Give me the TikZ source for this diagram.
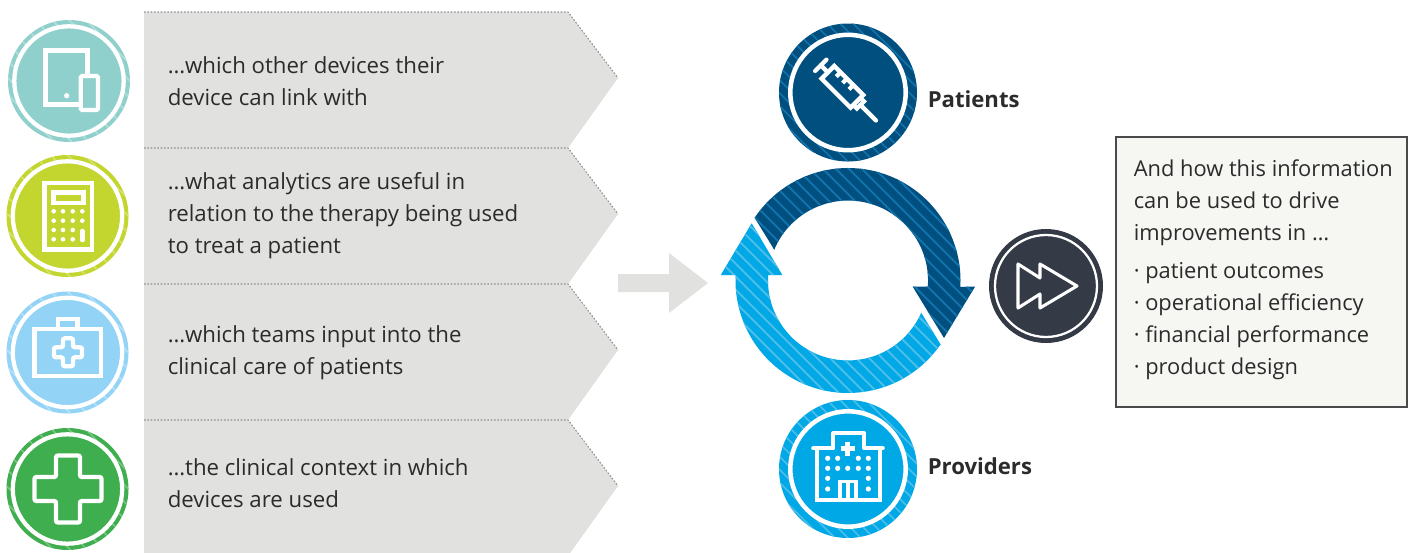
\documentclass[tikz,border=0pt]{standalone}
\usepackage{fontspec}
\setmainfont{Open Sans}
\usepackage{tikz}

\definecolor{blockgrey}{HTML}{E1E1E0}
\definecolor{dotgrey}{HTML}{8F8F8F}
\definecolor{tealbadge}{HTML}{90D0CC}
\definecolor{limebadge}{HTML}{C3D52F}
\definecolor{skybadge}{HTML}{93D4F6}
\definecolor{greenbadge}{HTML}{3FAE4E}
\definecolor{darkblue}{HTML}{004F7F}
\definecolor{darkstripe}{HTML}{1273AC}
\definecolor{lightblue}{HTML}{00A8E6}
\definecolor{lightstripe}{HTML}{4DBDEA}
\definecolor{slatebadge}{HTML}{343A46}
\definecolor{boxfill}{HTML}{F6F6F3}
\definecolor{boxline}{HTML}{4A4A4A}
\definecolor{textdark}{HTML}{2B2B2B}

\tikzset{
  blocktext/.style={anchor=west,inner sep=0pt,align=left,text=textdark,font=\fontsize{16.65}{24}\selectfont},
  boxtext/.style={blocktext,font=\fontsize{16.4}{24}\selectfont},
  boldlabel/.style={anchor=west,inner sep=0pt,text=textdark,font=\fontsize{16.6}{24}\selectfont\bfseries},
  icon/.style={draw=white,line width=3.2pt,line join=round,line cap=round},
  thinicon/.style={draw=white,line width=3.2pt,line join=miter,miter limit=10},
  dotmark/.style={fill=white,draw=none}
}

% circle with striped rim and a white ring: x, y, radius, ring radius, fill, stripe, ring width, stripe step
\newcommand{\badge}[8]{
  \fill[#5] (#1,#2) circle (#3);
  \begin{scope}[shift={(#1,#2)}]
    \clip (0,0) circle (#3);
    \pgfmathsetmacro{\nextk}{-160+#8}
    \foreach \k in {-160,\nextk,...,160}
      \draw[#6,line width=1.3pt] (\k-85,-85) -- (\k+85,85);
  \end{scope}
  \fill[#5] (#1,#2) circle (#4);
  \draw[white,line width=#7] (#1,#2) circle (#4);
}

% diagonal stripes for the ring arrows
\newcommand{\ringstripes}[1]{
  \foreach \k in {440,453,...,1100}
    \draw[#1,line width=1.5pt] (\k,150) -- ++(260,260);
}
\newcommand{\darkshape}{(848,280.5) ++(213.9:112.5) arc (213.9:363.2:112.5) -- (975,286.7) -- (944,338) -- (912.7,286.7) -- (927.8,286.7) arc (364.4:202.7:80) -- cycle}
\newcommand{\lightshape}{(848,280.5) ++(34.6:112.5) arc (34.6:182.8:112.5) -- (720.7,275) -- (751.7,223.3) -- (782.3,275) -- (768.2,275) arc (183.9:23.8:80) -- cycle}

\begin{document}
\begin{tikzpicture}[x=0.75pt,y=0.75pt,yscale=-1,xscale=1]
\clip (0,0) rectangle (1411,553);

%Shape: Blocks
\foreach \y in {12,148,284,420}{
  \fill[blockgrey] (144,\y) -- (568,\y) -- (618,\y+66) -- (568,\y+136) -- (144,\y+136) -- cycle;
  \draw[dotgrey,line width=0.8pt,dash pattern=on 1.2pt off 1.3pt] (144,\y) -- (568,\y) -- (618,\y+66);
}

%Shape: Grey Arrow
\fill[blockgrey] (618,274) -- (669,274) -- (669,253) -- (708,283) -- (669,313) -- (669,292) -- (618,292) -- cycle;

%Shape: Left Badges
\badge{69}{81}{61}{54.7}{tealbadge}{white!30!tealbadge}{3.2pt}{17}
\badge{67.5}{216}{61}{54.7}{limebadge}{white!30!limebadge}{3.2pt}{17}
\badge{67.5}{352.5}{61}{54.7}{skybadge}{white!30!skybadge}{3.2pt}{17}
\badge{67.5}{489}{61}{54.7}{greenbadge}{white!30!greenbadge}{3.2pt}{17}

%Shape: Tablet
\draw[thinicon,fill=tealbadge] (45.5,50.5) rectangle (87.5,104.5);
\draw[thinicon,fill=tealbadge,rounded corners=1pt] (80.7,76) rectangle (98,110);
\fill[dotmark] (66.7,95.7) circle (2.6);

%Shape: Calculator
\draw[thinicon] (44.5,183.2) rectangle (91.8,249.5);
\draw[thinicon] (53.5,192.5) rectangle (83.5,203);
\foreach \row in {211.3,220.7,230,239.3}
  \foreach \col in {53.7,63,72.7}
    \fill[dotmark] (\col,\row) circle (2.3);
\fill[dotmark] (82.3,211.3) circle (2.3);
\fill[dotmark] (82.3,220.7) circle (2.3);
\draw[white,line width=3.4pt,line cap=round] (82.3,231) -- (82.3,240);

%Shape: Medical Case
\draw[thinicon] (34.5,329) rectangle (101,376);
\draw[thinicon] (58,329) -- (58,319) -- (77.5,319) -- (77.5,329);
\draw[thinicon,rounded corners=1.5pt] (63,338.3) -- (73,338.3) -- (73,347.3) -- (82,347.3) -- (82,357.3) -- (73,357.3) -- (73,366.3) -- (63,366.3) -- (63,357.3) -- (54,357.3) -- (54,347.3) -- (63,347.3) -- cycle;

%Shape: Green Cross
\draw[thinicon,rounded corners=1.5pt] (56,455.5) -- (80,455.5) -- (80,477) -- (101.5,477) -- (101.5,501) -- (80,501) -- (80,522.5) -- (56,522.5) -- (56,501) -- (34.5,501) -- (34.5,477) -- (56,477) -- cycle;

%Shape: Patients Badge
\badge{848}{92.5}{69}{57.7}{darkblue}{darkstripe}{3.4pt}{13}
\begin{scope}[shift={(820.8,65.3)},rotate=45]
  \draw[icon] (0,-8) -- (0,8);
  \draw[icon] (0,0) -- (10,0);
  \draw[icon,line cap=butt,line join=miter] (10,-9) rectangle (51,9);
  \foreach \s in {19,28,37}
    \draw[icon,line cap=butt] (\s,-9) -- (\s,-3);
  \draw[icon,line cap=butt,line join=miter] (51,-5) -- (56,-5) -- (56,5) -- (51,5);
  \draw[icon] (56,0) -- (78,0);
\end{scope}

%Shape: Providers Badge
\badge{848}{469}{69}{57.7}{lightblue}{lightstripe}{3.4pt}{13}
\draw[icon,line cap=butt,line join=miter] (816.7,449) -- (816.7,500) -- (880,500) -- (880,449);
\draw[icon] (813.3,448.3) -- (833.3,448.3) -- (833.3,433.3) -- (864.3,433.3) -- (864.3,448.3) -- (882.7,448.3);
\fill[lightblue] (839,440) rectangle (856.5,457.5);
\draw[white,line width=3.8pt] (840.7,448.7) -- (854.7,448.7) (847.7,441.7) -- (847.7,455.7);
\foreach \row in {458.3,468.3}
  \foreach \col in {827.7,837.7,858.3,868.3}
    \fill[dotmark] (\col,\row) circle (2.6);
\fill[dotmark] (847.7,468.3) circle (2.6);
\foreach \row in {478.3,489}
  \foreach \col in {827.7,868.3}
    \fill[dotmark] (\col,\row) circle (2.6);
\draw[thinicon,line width=2.8pt] (840,500) -- (840,481.5) -- (856,481.5) -- (856,500) (848,481.5) -- (848,500);

%Shape: Dark Ring Arrow
\fill[darkblue] \darkshape;
\begin{scope}
  \clip \darkshape;
  \ringstripes{darkstripe}
\end{scope}

%Shape: Light Ring Arrow
\fill[lightblue] \lightshape;
\begin{scope}
  \clip \lightshape;
  \ringstripes{lightstripe}
\end{scope}

%Shape: Forward Badge
\fill[slatebadge] (1046,286) circle (57);
\draw[white,line width=1.7pt] (1046,286) circle (51);
\draw[white,line width=2.3pt,line join=round] (1018,264) -- (1040,278) -- (1040,264) -- (1077,286) -- (1040,308) -- (1040,294) -- (1018,308) -- cycle;

%Shape: Outcome Box
\draw[boxline,fill=boxfill,line width=0.8pt] (1116,137) rectangle (1407,407);

% Text Node
\draw (167.5,81) node [blocktext] (devices) {…which other devices their\\device can link with};
% Text Node
\draw (167.5,216) node [blocktext] (analytics) {…what analytics are useful in\\relation to the therapy being used\\to treat a patient};
% Text Node
\draw (167.5,353) node [blocktext] (teams) {…which teams input into the\\clinical care of patients};
% Text Node
\draw (167.5,483) node [blocktext] (context) {…the clinical context in which\\devices are used};
% Text Node
\draw (927.5,99) node [boldlabel] (patients) {Patients};
% Text Node
\draw (927.5,466) node [boldlabel] (providers) {Providers};
% Text Node
\draw (1133.5,203) node [boxtext] (howinfo) {And how this information\\can be used to drive\\improvements in …};
% Text Node
\draw (1133.5,321) node [boxtext] (outcomes) {· patient outcomes\\· operational efficiency\\· financial performance\\· product design};

\end{tikzpicture}
\end{document}
